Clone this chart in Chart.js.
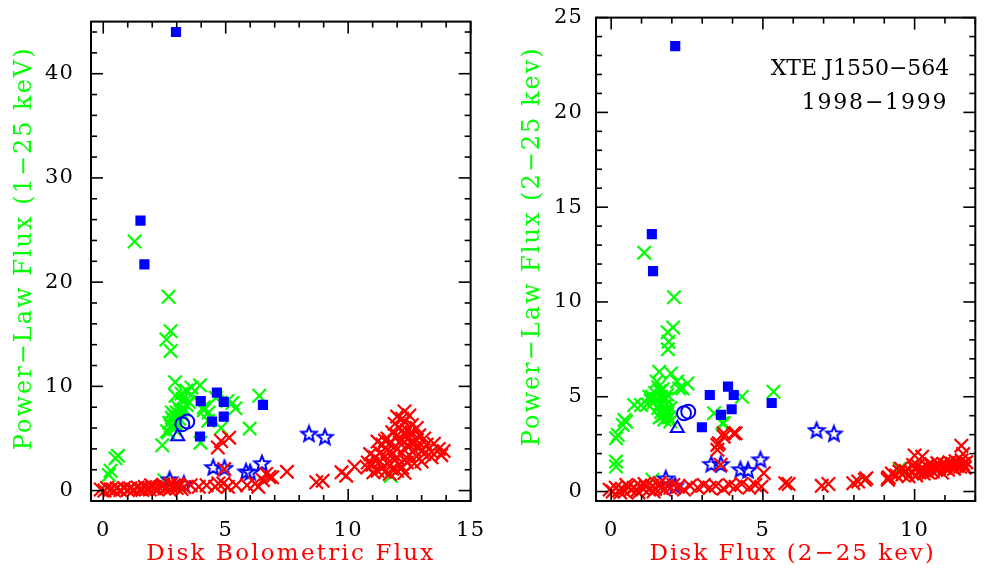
<!DOCTYPE html>
<html><head><meta charset="utf-8">
<script src="https://cdn.jsdelivr.net/npm/chart.js@4.4.1/dist/chart.umd.min.js"></script>
<style>
html,body{margin:0;padding:0;background:#fff;width:987px;height:571px;overflow:hidden}
#c1{position:absolute;left:0;top:0}
#c2{position:absolute;left:493px;top:0}
</style></head><body>
<canvas id="c1" width="493" height="571"></canvas>
<canvas id="c2" width="494" height="571"></canvas>
<script>
// ---------- LEFT PANEL DATA (Disk Bolometric Flux vs Power-Law Flux 1-25 keV) ----------
const leftGreen = [
 [1.28,23.9],[2.67,18.6],[2.75,15.3],[2.58,14.5],[2.75,13.4],
 [0.23,1.5],[0.3,1.9],[0.6,3.35],[0.5,3.1],
 [2.93,10.4],[3.39,9.6],[3.6,9.9],[3.95,10.1],[2.95,9.1],[3.2,9.3],
 [4.1,7.7],[4.3,7.5],[5.07,8.6],[5.4,7.9],[5.27,8.4],[6.37,9.1],[5.98,5.95],[4.81,6.0],[3.97,4.6],[2.41,4.35],[2.61,5.7],[4.28,6.7],
 [2.75,6.2],[2.85,6.8],[2.9,7.2],[3.0,7.5],[2.8,7.0],[3.1,6.9],[2.95,6.4],[3.2,7.3],[3.05,8.0],[2.7,6.5],[3.3,7.8],[3.4,8.2],
 [3.15,7.6],[2.9,5.9],[2.65,5.6],[3.5,8.5],[3.6,9.2],[3.0,6.6],[2.8,7.5],[3.25,8.8],[4.1,8.0],[4.6,8.9],
 [2.5,1.0],[11.75,1.4]
];
const leftRed = [
 [-0.1,0.1],[0.05,0.0],[0.15,0.25],[0.3,0.1],[0.45,0.0],[0.55,0.2],[0.7,0.05],[0.85,0.25],[1.0,0.05],[1.1,0.2],[1.25,0.1],[1.4,0.3],
 [1.5,0.15],[1.6,0.05],[1.7,0.35],[1.8,0.2],[1.9,0.1],[2.0,0.4],[2.1,0.25],[2.2,0.15],[2.3,0.3],[2.4,0.45],[2.5,0.2],[2.6,0.35],
 [2.7,0.1],[2.8,0.3],[2.9,0.5],[3.0,0.25],[3.1,0.4],[3.2,0.15],[3.3,0.35],[1.95,0.5],[2.45,0.55],[2.75,0.6],[3.05,0.6],
 [3.57,0.52],[3.9,0.36],[4.22,0.52],[4.57,0.36],[4.7,0.68],[4.9,0.68],[5.09,0.36],[5.42,0.52],[5.87,0.52],[6.2,0.68],[6.33,0.36],
 [6.52,1.0],[6.78,1.3],[6.65,1.6],[7.5,1.8],[4.81,4.76],[5.14,5.08],[4.68,4.13],[4.94,2.06],
 [6.89,1.27],[8.7,0.8],[8.96,0.95],[9.73,1.75],[9.92,1.43],[10.26,2.29],[10.97,2.54],[11.03,1.75],[10.78,2.22],
 [12.3,7.6],[12.0,7.1],[12.2,6.9],[12.5,7.2],
 [11.9,6.4],[12.3,6.6],[12.6,6.3],[12.8,6.0],[12.1,6.0],[12.4,5.8],
 [11.8,5.6],[12.0,5.3],[12.3,5.4],[12.6,5.6],[12.9,5.3],[13.1,5.0],[11.6,5.0],[12.2,4.9],[12.5,5.1],[12.8,4.8],
 [11.2,4.7],[11.4,4.4],[11.7,4.5],[11.9,4.2],[12.1,4.6],[12.4,4.3],[12.6,4.5],[12.9,4.2],[13.2,4.4],[13.5,4.5],[13.7,4.0],
 [11.5,4.8],[12.0,4.0],[12.7,3.9],[13.0,3.8],[13.4,3.7],
 [10.9,3.5],[11.1,3.2],[11.3,3.6],[11.5,3.3],[11.8,3.5],[12.0,3.2],[12.2,3.6],[12.5,3.4],[12.8,3.3],[13.1,3.5],[13.4,3.2],
 [13.8,3.4],[13.9,3.8],[11.6,3.9],[12.3,3.0],
 [10.8,2.7],[11.0,2.5],[11.3,2.8],[11.6,2.6],[11.9,2.9],[12.1,2.5],[12.4,2.7],[12.7,2.6],[13.0,2.8],[11.4,2.2],[11.8,2.1],[12.2,2.2],
 [11.5,1.8],[11.7,1.6],[12.0,1.9],[12.3,1.7],[11.2,1.9]
];
const leftBlueSquares = [[2.97,44.0],[1.52,25.9],[1.68,21.7],[4.64,9.4],[3.98,8.58],[4.92,8.51],[6.52,8.23],[4.44,6.62],[4.92,7.09],[3.95,5.19]];
const leftBlueCircles = [[3.23,6.37],[3.43,6.62]];
const leftBlueTriangles = [[3.04,5.19]];
const leftBlueStars = [[4.49,2.26],[4.95,2.2],[5.83,1.85],[6.0,1.78],[6.48,2.64],[2.71,1.09],[3.29,0.68],[8.4,5.48],[9.05,5.17]];
const leftXTicks = [0,5,10,15];
const leftYTicks = [0,10,20,30,40];

// ---------- RIGHT PANEL DATA (Disk Flux 2-25 keV vs Power-Law Flux 2-25 keV) ----------
const rightGreen = [
 [1.09,12.6],[2.07,10.25],[2.04,8.65],[1.86,8.4],[1.89,7.9],[1.87,7.5],
 [0.16,2.81],[0.16,1.58],[0.16,1.32],[0.49,3.68],[0.38,3.51],[0.98,4.56],[1.26,5.0],[1.58,6.32],[1.97,6.23],[2.24,5.44],[2.51,5.7],
 [3.39,4.13],[3.66,3.6],[4.31,5.0],[5.35,5.26],[1.36,0.62],[0.76,4.56],[0.44,3.77],[0.22,2.98],[2.35,5.44],[2.17,5.8],[3.71,3.6],
 [1.5,5.8],[1.55,5.5],[1.6,5.3],[1.45,5.2],[1.65,5.0],[1.5,4.9],[1.7,4.8],[1.4,4.7],[1.6,4.6],[1.75,4.5],[1.55,4.4],[1.8,4.3],
 [1.65,4.2],[1.85,4.1],[1.7,4.0],[1.9,3.9],[1.75,3.8],[1.6,3.9],[1.95,4.4],[1.8,4.9],[1.35,5.0],[1.7,5.4],[1.85,5.1],[1.3,4.8],
 [1.2,4.6],[1.95,3.7],[9.5,1.2]
];
const rightRed = [
 [-0.05,0.1],[0.05,0.0],[0.15,0.2],[0.25,0.05],[0.35,0.15],[0.45,0.0],[0.55,0.25],[0.65,0.1],[0.75,0.2],[0.85,0.05],[0.95,0.3],
 [1.05,0.15],[1.15,0.25],[1.25,0.1],[1.35,0.3],[1.45,0.15],[1.55,0.35],[1.65,0.2],[1.75,0.1],[1.85,0.3],[1.95,0.2],[0.5,0.35],
 [1.1,0.4],[1.6,0.45],[0.3,-0.05],[0.9,-0.05],[1.4,0.0],[2.05,0.35],
 [2.2,0.25],[2.4,0.1],[2.6,0.3],[2.85,0.2],[3.05,0.35],[3.25,0.2],[3.45,0.3],[3.7,0.15],[3.9,0.35],[4.1,0.25],[4.3,0.4],
 [4.55,0.2],[4.75,0.35],[4.95,0.25],[5.03,0.97],[5.74,0.44],
 [3.55,2.55],[3.71,2.89],[4.1,3.07],[3.61,1.41],[3.5,2.2],[3.71,3.07],[4.04,3.07],[3.5,2.46],
 [5.85,0.4],[6.94,0.3],[7.16,0.4],[7.98,0.44],[8.14,0.53],[8.41,0.7],[9.12,0.62],[8.36,0.62],[9.12,0.7],
 [9.15,0.75],[9.25,0.95],
 [9.4,0.85],[9.5,1.05],[9.6,0.9],[9.7,1.1],[9.8,0.8],[9.55,1.2],
 [9.9,1.0],[10.0,1.2],[10.05,0.85],[10.1,1.35],[10.15,1.0],[10.2,1.15],[9.95,1.4],
 [10.25,1.25],[10.3,0.95],[10.35,1.1],[10.4,1.35],[10.45,1.0],[10.5,1.2],[10.55,1.45],[10.6,1.05],
 [10.65,1.3],[10.7,1.15],[10.75,1.5],[10.8,1.2],[10.85,1.35],[10.9,1.0],[10.95,1.45],[11.0,1.25],
 [11.05,1.4],[11.1,1.15],[11.15,1.55],[11.2,1.3],[11.25,1.45],[11.3,1.2],[11.35,1.6],[11.4,1.35],[11.45,1.5],
 [11.5,1.3],[11.55,1.65],[11.6,1.45],[11.65,1.25],[11.7,1.55],
 [10.0,1.9],[10.25,1.84],[11.54,2.42],[11.6,1.98],[11.65,1.28]
];
const rightBlueSquares = [[2.11,23.5],[1.34,13.58],[1.38,11.63],[3.25,5.09],[3.85,5.53],[4.04,5.09],[3.62,4.04],[3.97,4.34],[2.99,3.39],[5.29,4.67]];
const rightBlueCircles = [[2.4,4.13],[2.54,4.21]];
const rightBlueTriangles = [[2.18,3.34]];
const rightBlueStars = [[3.3,1.46],[3.61,1.46],[4.26,1.18],[4.51,1.14],[4.92,1.7],[1.8,0.7],[2.11,0.32],[6.77,3.25],[7.34,3.07]];
const rightXTicks = [0,5,10];
const rightYTicks = [0,5,10,15,20,25];

const annotationLines = ['XTE J1550\u2212564', '1998\u22121999'];

// ---------- styling ----------
const GREEN = '#00ff00', RED = '#ff0000', BLUE = '#0000ff';
const FONT = "'DejaVu Serif', serif";

function makeStar() {
  const c = document.createElement('canvas');
  c.width = 20; c.height = 20;
  const g = c.getContext('2d');
  g.strokeStyle = BLUE; g.lineWidth = 2; g.lineJoin = 'miter';
  g.beginPath();
  for (let i = 0; i < 10; i++) {
    const r = i % 2 === 0 ? 8 : 3.5;
    const a = -Math.PI / 2 + i * Math.PI / 5;
    const px = 10 + r * Math.cos(a), py = 10.8 + r * Math.sin(a);
    if (i === 0) g.moveTo(px, py); else g.lineTo(px, py);
  }
  g.closePath(); g.stroke();
  return c;
}
const starImg = makeStar();

const pts = a => a.map(p => ({x: p[0], y: p[1]}));

function datasets(red, green, sq, circ, tri, star) {
  return [
    {data: pts(red), pointStyle: 'crossRot', pointRadius: 9.5, borderWidth: 2.2, borderColor: RED, backgroundColor: RED, order: 1},
    {data: pts(star), pointStyle: starImg, pointRadius: 8, order: 2},
    {data: pts(sq), pointStyle: 'rect', pointRadius: 7.2, borderWidth: 0, borderColor: BLUE, backgroundColor: BLUE, order: 3},
    {data: pts(circ), pointStyle: 'circle', pointRadius: 7, borderWidth: 2, borderColor: BLUE, backgroundColor: 'rgba(0,0,0,0)', order: 4},
    {data: pts(tri), pointStyle: 'triangle', pointRadius: 7.5, borderWidth: 2, borderColor: BLUE, backgroundColor: 'rgba(0,0,0,0)', order: 5},
    {data: pts(green), pointStyle: 'crossRot', pointRadius: 9.5, borderWidth: 2.2, borderColor: GREEN, backgroundColor: GREEN, order: 6}
  ];
}

function framePlugin(o) {
  return {
    id: 'frameTicks',
    beforeDraw(chart) {
      const ctx = chart.ctx;
      try { ctx.letterSpacing = '1.2px'; } catch (e) {}
      // wider letter spacing (and a small shift) for the axis titles
      ['x', 'y'].forEach(k => {
        const s = chart.scales[k];
        if (s && !s._patched) {
          const orig = s.drawTitle.bind(s);
          const sp = k === 'x' ? o.xTitleSpacing : o.yTitleSpacing;
          const dx = k === 'x' ? o.xTitleShift : 0, dy = k === 'y' ? o.yTitleShift : 0;
          s.drawTitle = function () {
            ctx.save();
            ctx.translate(dx, dy);
            try { ctx.letterSpacing = sp; } catch (e) {}
            orig();
            ctx.restore();
            try { ctx.letterSpacing = '1.2px'; } catch (e) {}
          };
          s._patched = true;
        }
      });
    },
    afterDraw(chart) {
      const ctx = chart.ctx;
      const {left, right, top, bottom} = chart.chartArea;
      const xs = chart.scales.x, ys = chart.scales.y;
      ctx.save();
      ctx.strokeStyle = '#000';
      ctx.lineWidth = 1.6;
      const tick = (x1, y1, x2, y2) => { ctx.beginPath(); ctx.moveTo(x1, y1); ctx.lineTo(x2, y2); ctx.stroke(); };
      for (let i = 0; o.xMin + i * o.xMinor <= o.xMax + 1e-9; i++) {
        const v = o.xMin + i * o.xMinor;
        const p = xs.getPixelForValue(v);
        const L = Math.abs(v / o.xMajor - Math.round(v / o.xMajor)) < 1e-6 ? 12 : 6;
        tick(p, bottom, p, bottom - L); tick(p, top, p, top + L);
      }
      for (let i = 0; o.yMin + i * o.yMinor <= o.yMax + 1e-9; i++) {
        const v = o.yMin + i * o.yMinor;
        const p = ys.getPixelForValue(v);
        const L = Math.abs(v / o.yMajor - Math.round(v / o.yMajor)) < 1e-6 ? 12 : 6;
        tick(left, p, left + L, p); tick(right, p, right - L, p);
      }
      ctx.lineWidth = 2;
      ctx.strokeRect(left, top, right - left, bottom - top);
      if (o.annotation) {
        ctx.fillStyle = '#000';
        ctx.font = '22px ' + FONT;
        ctx.textAlign = 'right';
        ctx.textBaseline = 'alphabetic';
        try { ctx.letterSpacing = '0px'; } catch (e) {}
        ctx.fillText(o.annotation[0], right - 26, top + 57);
        try { ctx.letterSpacing = '1.8px'; } catch (e) {}
        ctx.fillText(o.annotation[1], right - 27, top + 91);
      }
      ctx.restore();
      try { ctx.letterSpacing = '0px'; } catch (e) {}
    }
  };
}

function makeChart(id, cfg) {
  const tickSet = list => (scale) => { scale.ticks = list.map(v => ({value: v})); };
  return new Chart(document.getElementById(id), {
    type: 'scatter',
    data: {datasets: cfg.ds},
    options: {
      responsive: false, animation: false, events: [],
      layout: {padding: {top: 17, right: cfg.padRight, left: 0, bottom: 0}},
      plugins: {legend: {display: false}, tooltip: {enabled: false}},
      scales: {
        x: {
          type: 'linear', min: cfg.xmin, max: cfg.xmax,
          afterBuildTicks: tickSet(cfg.xticks),
          afterFit: s => { s.height = 70; },
          grid: {display: false}, border: {display: false},
          ticks: {color: '#000', font: {family: FONT, size: 21}, padding: 9, maxRotation: 0, autoSkip: false},
          title: {display: true, text: cfg.xtitle, color: RED, font: {family: FONT, size: 23}, padding: {top: 0, bottom: 3}}
        },
        y: {
          type: 'linear', min: cfg.ymin, max: cfg.ymax,
          afterBuildTicks: tickSet(cfg.yticks),
          afterFit: s => { s.width = cfg.yWidth; },
          grid: {display: false}, border: {display: false},
          ticks: {color: '#000', font: {family: FONT, size: 21}, padding: cfg.yTickPad, autoSkip: false},
          title: {display: true, text: cfg.ytitle, color: GREEN, font: {family: FONT, size: 24}, padding: {top: cfg.yTitlePad, bottom: 0}}
        }
      }
    },
    plugins: [framePlugin(cfg.frame)]
  });
}

makeChart('c1', {
  ds: datasets(leftRed, leftGreen, leftBlueSquares, leftBlueCircles, leftBlueTriangles, leftBlueStars),
  xmin: -0.5, xmax: 15, ymin: -1, ymax: 45, xticks: leftXTicks, yticks: leftYTicks,
  xtitle: 'Disk Bolometric Flux', ytitle: 'Power\u2212Law Flux (1\u221225 keV)',
  padRight: 5, yWidth: 91, yTitlePad: 10, yTickPad: 9,
  frame: {xMin: 0, xMax: 15, xMinor: 1, xMajor: 5, yMin: 0, yMax: 44, yMinor: 2, yMajor: 10,
          xTitleSpacing: '2.2px', yTitleSpacing: '2px', xTitleShift: 10, yTitleShift: -13}
});
makeChart('c2', {
  ds: datasets(rightRed, rightGreen, rightBlueSquares, rightBlueCircles, rightBlueTriangles, rightBlueStars),
  xmin: -0.5, xmax: 12, ymin: -0.5, ymax: 25, xticks: rightXTicks, yticks: rightYTicks,
  xtitle: 'Disk Flux (2\u221225 kev)', ytitle: 'Power\u2212Law Flux (2\u221225 kev)',
  padRight: 11, yWidth: 103, yTitlePad: 25, yTickPad: 5,
  frame: {xMin: 0, xMax: 12, xMinor: 1, xMajor: 5, yMin: 0, yMax: 25, yMinor: 1, yMajor: 5,
          xTitleSpacing: '2px', yTitleSpacing: '2px', xTitleShift: 7, yTitleShift: -13, annotation: annotationLines}
});
</script>
</body></html>
